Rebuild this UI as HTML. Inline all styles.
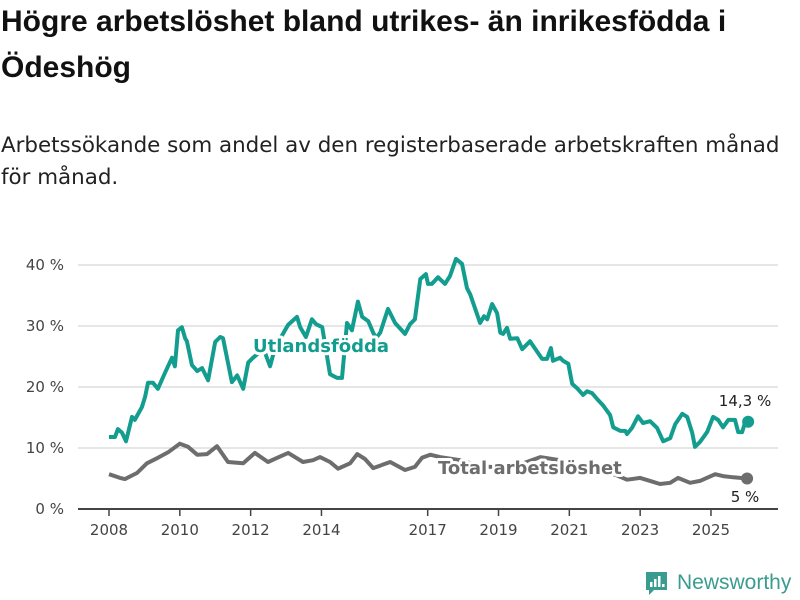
<!DOCTYPE html>
<html><head><meta charset="utf-8">
<style>
body{margin:0;background:#fff;font-family:"DejaVu Sans","Liberation Sans",sans-serif;}
#wrap{position:relative;width:800px;height:600px;overflow:hidden;}
h1{position:absolute;left:1px;top:-1px;margin:0;font-family:"Liberation Sans",sans-serif;font-size:30px;line-height:46px;font-weight:bold;color:#111;white-space:nowrap;}
.sub{position:absolute;left:1px;top:130px;margin:0;font-size:21.4px;line-height:32px;color:#222;white-space:nowrap;}
</style></head><body>
<div id="wrap">
<h1>Högre arbetslöshet bland utrikes- än inrikesfödda i<br>Ödeshög</h1>
<p class="sub">Arbetssökande som andel av den registerbaserade arbetskraften månad<br>för månad.</p>
<svg id="chart" width="800" height="600" style="position:absolute;left:0;top:0"></svg>
</div>
<script>
const yTicks=[0,10,20,30,40];
const xTickYears=[2008,2010,2012,2014,2017,2019,2021,2023,2025];
const foreignYears=[2008.0,2008.17,2008.25,2008.37,2008.48,2008.65,2008.73,2008.93,2009.02,2009.1,2009.24,2009.38,2009.58,2009.78,2009.86,2009.95,2010.06,2010.15,2010.2,2010.34,2010.49,2010.63,2010.8,2011.0,2011.14,2011.22,2011.47,2011.62,2011.79,2011.93,2012.07,2012.21,2012.35,2012.55,2012.69,2012.89,2013.06,2013.31,2013.4,2013.56,2013.73,2013.85,2014.02,2014.24,2014.44,2014.58,2014.72,2014.86,2015.03,2015.15,2015.32,2015.46,2015.54,2015.66,2015.88,2016.08,2016.36,2016.5,2016.64,2016.79,2016.95,2017.01,2017.12,2017.29,2017.49,2017.63,2017.8,2017.97,2018.11,2018.2,2018.48,2018.59,2018.68,2018.82,2018.96,2019.05,2019.13,2019.24,2019.33,2019.53,2019.67,2019.89,2020.23,2020.37,2020.48,2020.54,2020.74,2020.82,2020.97,2021.08,2021.22,2021.39,2021.5,2021.64,2021.79,2021.95,2022.15,2022.24,2022.44,2022.58,2022.63,2022.77,2022.94,2023.08,2023.28,2023.48,2023.65,2023.85,2023.99,2024.19,2024.33,2024.47,2024.55,2024.69,2024.89,2025.06,2025.2,2025.34,2025.49,2025.68,2025.77,2025.88,2025.97,2026.05];
const foreignValues=[11.8,11.8,13.1,12.5,11.1,15.1,14.6,16.7,18.4,20.7,20.7,19.7,22.3,24.8,23.4,29.3,29.8,28.0,27.5,23.6,22.6,23.1,21.1,27.4,28.2,28.0,20.8,21.9,19.7,24.0,24.8,25.5,26.5,23.4,26.5,28.5,30.2,31.5,29.8,28.2,31.1,30.3,29.8,22.1,21.5,21.5,30.5,29.3,34.0,31.5,30.8,28.9,28.0,28.9,32.8,30.5,28.7,30.3,31.1,37.7,38.5,36.9,36.9,38.0,36.9,38.2,41.0,40.2,36.2,35.2,30.5,31.6,31.1,33.6,32.1,28.9,28.7,29.7,27.9,28.0,26.2,27.5,24.6,24.6,26.4,24.3,24.8,24.3,23.8,20.5,19.8,18.7,19.3,19.0,18.0,17.0,15.4,13.4,12.8,12.8,12.3,13.3,15.2,14.1,14.4,13.3,11.1,11.6,13.9,15.6,15.1,12.5,10.2,11.0,12.6,15.1,14.6,13.4,14.6,14.6,12.6,12.6,14.3,14.3];
const totalYears=[2008.0,2008.31,2008.45,2008.79,2009.07,2009.38,2009.67,2010.0,2010.23,2010.49,2010.77,2011.05,2011.36,2011.79,2012.12,2012.49,2012.75,2013.06,2013.48,2013.76,2013.96,2014.24,2014.47,2014.81,2015.01,2015.23,2015.46,2015.94,2016.36,2016.64,2016.84,2017.07,2017.35,2017.92,2018.48,2019.05,2019.6,2020.18,2020.74,2021.3,2021.87,2022.3,2022.63,2023.0,2023.28,2023.56,2023.85,2024.07,2024.41,2024.69,2025.12,2025.34,2025.63,2026.02];
const totalValues=[5.7,5.1,4.9,5.9,7.5,8.4,9.3,10.7,10.2,8.9,9.0,10.3,7.7,7.5,9.2,7.7,8.4,9.2,7.7,8.0,8.5,7.7,6.6,7.5,9.0,8.2,6.7,7.7,6.4,6.9,8.4,8.9,8.5,8.0,7.0,6.8,7.3,8.5,8.0,6.9,6.2,5.6,4.8,5.1,4.6,4.1,4.3,5.1,4.3,4.6,5.7,5.4,5.2,5.0];

const svg=document.getElementById('chart');
const NS='http://www.w3.org/2000/svg';
const x=yr=>109+(yr-2008)*35.41;
const y=v=>509-v*6.1;
function mk(tag,attrs,parent){const e=document.createElementNS(NS,tag);for(const k in attrs)e.setAttribute(k,attrs[k]);(parent||svg).appendChild(e);return e;}

yTicks.forEach(t=>{
  const g=mk('line',{x1:78,x2:778,y1:y(t),y2:y(t),stroke:t===0?'#444':'#ddd','stroke-width':t===0?2:1.5});
  
  
  const l=mk('text',{x:64,y:y(t)+5,'text-anchor':'end','font-size':15,fill:'#444'});
  l.textContent=t+' %';
  
  
});
xTickYears.forEach(yr=>{
  const tk=mk('line',{x1:x(yr),x2:x(yr),y1:509,y2:516,stroke:'#444','stroke-width':1.5});
  
  
  const l=mk('text',{x:x(yr),y:535,'text-anchor':'middle','font-size':15,fill:'#444'});
  l.textContent=yr;
  
  
});
function pathD(xs,vs){return xs.map((yr,i)=>(i?'L':'M')+x(yr).toFixed(1)+','+y(vs[i]).toFixed(1)).join(' ');}
const tl=mk('path',{d:pathD(totalYears,totalValues),fill:'none',stroke:'#6d6d6d','stroke-width':4,'stroke-linejoin':'round'});


const fl=mk('path',{d:pathD(foreignYears,foreignValues),fill:'none',stroke:'#139d8f','stroke-width':4,'stroke-linejoin':'round'});



const fLast=foreignValues.length-1,tLast=totalValues.length-1;
const fd=mk('circle',{cx:x(foreignYears[fLast]),cy:y(foreignValues[fLast]),r:6,fill:'#139d8f'});


const td=mk('circle',{cx:x(totalYears[tLast]),cy:y(totalValues[tLast]),r:6,fill:'#6d6d6d'});



const fv=mk('text',{x:745,y:406,'text-anchor':'middle','font-size':15,fill:'#222'});
fv.textContent=foreignValues[fLast].toFixed(1).replace('.',',')+' %';


const tv=mk('text',{x:745,y:502,'text-anchor':'middle','font-size':15,fill:'#222'});
tv.textContent=totalValues[tLast]+' %';



const ul=mk('text',{x:253,y:352,'font-size':18,'font-weight':'bold',fill:'#139d8f',stroke:'#fff','stroke-width':6,'paint-order':'stroke','stroke-linejoin':'round'});
ul.textContent='Utlandsfödda';


const al=mk('text',{x:438,y:474,'font-size':18,'font-weight':'bold',fill:'#6d6d6d',stroke:'#fff','stroke-width':6,'paint-order':'stroke','stroke-linejoin':'round'});
al.textContent='Total arbetslöshet';



const logo=mk('g',{});


mk('path',{d:'M646 572 h21 v18 h-13 l-5 5 v-5 h-3 z',fill:'#3a9c90'},logo);
mk('rect',{x:650,y:582,width:2.5,height:5,fill:'#fff'},logo);
mk('rect',{x:654,y:579,width:2.5,height:8,fill:'#fff'},logo);
mk('rect',{x:658,y:576,width:2.5,height:11,fill:'#fff'},logo);
mk('rect',{x:662,y:584,width:2.5,height:3,fill:'#fff'},logo);
const lt=mk('text',{x:677,y:589,'font-size':21,fill:'#3a9c90','font-family':'Liberation Sans, sans-serif'},logo);
lt.textContent='Newsworthy';
</script>
</body></html>
